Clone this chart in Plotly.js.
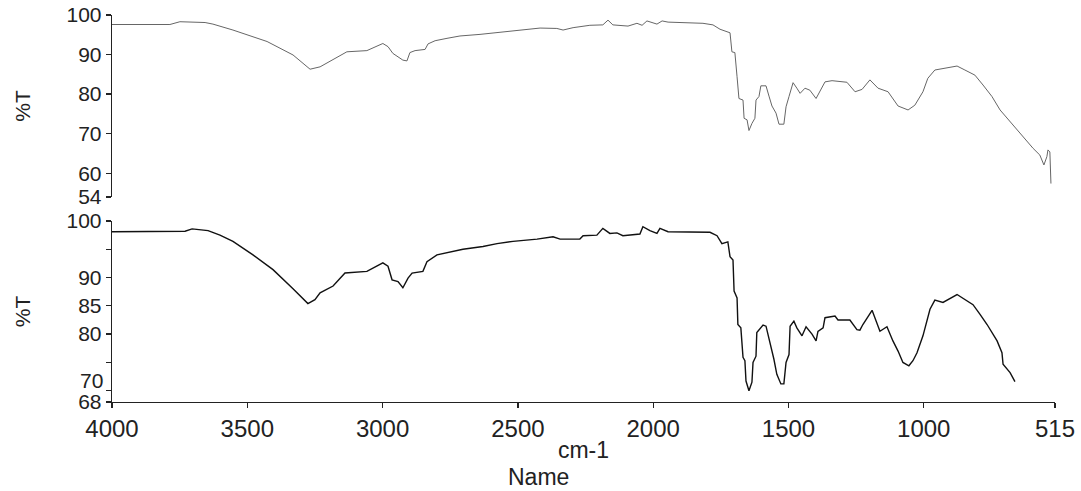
<!DOCTYPE html>
<html>
<head>
<meta charset="utf-8">
<script src="https://cdn.plot.ly/plotly-3.0.1.min.js"></script>
<style>html,body{margin:0;padding:0;background:#fff;}#chart{width:1081px;height:491px;}</style>
</head>
<body>
<div id="chart"></div>
<script>
// Top spectrum (wavenumber cm-1, %T)
const topWavenumber = [4000,3786,3749,3656,3627,3553,3427,3331,3268,3231,3132,3058,2999,2980,2962,2925,2910,2899,2880,2843,2832,2806,2762,2714,2640,2577,2492,2418,2356,2333,2296,2234,2186,2167,2149,2093,2060,2041,2023,2012,1986,1967,1945,1816,1779,1753,1716,1709,1698,1690,1683,1668,1664,1653,1646,1635,1624,1620,1609,1602,1583,1572,1561,1546,1535,1517,1509,1498,1483,1469,1457,1439,1421,1398,1376,1365,1339,1284,1254,1228,1199,1169,1132,1095,1058,1033,1003,985,959,929,877,848,811,781,748,718,681,637,596,571,556,545,541,534,530];
const topTransmittance = [97.6,97.6,98.3,98.1,97.7,96.2,93.3,89.9,86.3,86.9,90.7,91.0,92.8,92.0,90.3,88.6,88.4,90.5,91.0,91.3,92.7,93.5,94.1,94.7,95.1,95.6,96.2,96.7,96.6,96.2,96.8,97.4,97.5,98.7,97.5,97.2,97.9,97.4,98.5,98.3,97.7,98.5,98.2,97.9,97.5,96.4,95.5,90.7,90.5,84.4,78.9,78.5,73.9,73.5,70.8,72.6,73.9,78.5,79.4,82.1,82.1,79.5,77.0,75.2,72.4,72.4,76.8,79.4,82.9,81.5,80.2,81.5,81.0,78.9,81.5,83.1,83.4,83.0,80.6,81.2,83.6,81.5,80.6,77.0,76.0,77.2,80.6,84.0,86.1,86.5,87.1,86.1,84.8,82.3,79.4,76.0,73.0,69.7,66.3,64.6,62.1,64.2,65.9,65.4,57.4];

// Bottom spectrum (wavenumber cm-1, %T)
const bottomWavenumber = [4000,3730,3704,3645,3601,3553,3479,3405,3331,3298,3276,3250,3231,3183,3139,3058,2999,2980,2965,2943,2925,2906,2891,2851,2836,2799,2751,2703,2629,2577,2518,2429,2370,2344,2271,2259,2208,2186,2160,2134,2112,2049,2038,2012,1986,1975,1945,1790,1764,1746,1724,1716,1705,1701,1690,1687,1676,1668,1661,1657,1646,1635,1631,1620,1617,1594,1583,1568,1554,1543,1528,1517,1509,1498,1494,1480,1469,1450,1435,1413,1398,1391,1372,1365,1328,1317,1273,1247,1236,1225,1191,1162,1136,1114,1095,1077,1055,1040,1025,1003,977,959,929,877,848,818,792,766,729,711,707,681,663];
const bottomTransmittance = [98.1,98.2,98.6,98.3,97.5,96.4,94.0,91.4,88.0,86.4,85.4,86.1,87.3,88.5,90.8,91.1,92.6,92.0,89.6,89.3,88.2,89.9,90.8,91.1,92.8,94.0,94.5,95.0,95.5,96.0,96.4,96.8,97.2,96.8,96.8,97.4,97.5,98.7,97.8,97.9,97.4,97.7,99.0,98.3,97.8,98.7,98.1,98.0,97.4,96.0,96.3,93.7,93.1,87.6,86.4,81.7,81.1,75.9,75.3,71.7,70.0,71.5,75.0,76.1,80.3,81.6,81.4,78.5,75.6,72.9,71.2,71.2,75.0,76.4,81.4,82.3,81.1,79.7,81.3,80.0,78.8,80.5,81.1,82.9,83.2,82.5,82.5,80.8,80.7,81.7,84.2,80.5,81.3,78.8,77.0,75.0,74.4,75.3,76.7,79.7,84.4,86.0,85.6,87.0,86.1,85.2,83.5,81.7,78.8,76.7,74.7,73.2,71.6];

// Axis ticks
const xTickVals = [4000,3500,3000,2500,2000,1500,1000,515];
const xTickText = ["4000","3500","3000","2500","2000","1500","1000","515"];
const topYTickVals = [54,60,70,80,90,100];
const topYTickText = ["54","60","70","80","90","100"];
const bottomYTickVals = [68,70,75,80,85,90,95,100];
const bottomYTickText = ["68","","","80","85","90","","100"];
// the "70" label sits a little above its tick in the original, clear of "68"
const bottomLabel70 = "70";
const bottomLabel70At = 71.8;

const fontFamily = 'Arial, "Liberation Sans", sans-serif';
const textColor = '#222';

const traces = [
  {x: topWavenumber, y: topTransmittance, xaxis: 'x', yaxis: 'y', mode: 'lines',
   line: {color: '#666', width: 1}, hoverinfo: 'x+y'},
  {x: bottomWavenumber, y: bottomTransmittance, xaxis: 'x', yaxis: 'y2', mode: 'lines',
   line: {color: '#111', width: 1.4}, hoverinfo: 'x+y'}
];

const yCommon = {
  showgrid: false, zeroline: false, showline: true, linecolor: '#222', linewidth: 1.3,
  ticks: 'outside', ticklen: 5, tickcolor: '#222', tickwidth: 1.3,
  tickmode: 'array', anchor: 'x',
  tickfont: {family: fontFamily, size: 21, color: textColor},
  title: {text: '%T', font: {family: fontFamily, size: 21, color: textColor}, standoff: 30},
  automargin: false
};

const layout = {
  width: 1081, height: 491,
  margin: {l: 112, r: 26, t: 15, b: 89},
  paper_bgcolor: '#fff', plot_bgcolor: '#fff',
  showlegend: false,
  xaxis: {
    range: [4000, 515], anchor: 'y2',
    showgrid: false, zeroline: false, showline: true, linecolor: '#222', linewidth: 1.3,
    ticks: 'outside', ticklen: 5, tickcolor: '#222', tickwidth: 1.3,
    tickmode: 'array', tickvals: xTickVals, ticktext: xTickText,
    tickfont: {family: fontFamily, size: 24, color: textColor},
    title: {text: 'cm-1', font: {family: fontFamily, size: 23, color: textColor}, standoff: 0},
    automargin: false
  },
  yaxis: Object.assign({}, yCommon, {
    domain: [0.5297, 1], range: [54, 100],
    tickvals: topYTickVals, ticktext: topYTickText
  }),
  yaxis2: Object.assign({}, yCommon, {
    domain: [0, 0.4677], range: [68, 100],
    tickvals: bottomYTickVals, ticktext: bottomYTickText
  }),
  annotations: [
    {text: bottomLabel70, xref: 'paper', yref: 'y2', x: 0, y: bottomLabel70At,
     xanchor: 'right', yanchor: 'middle', xshift: -7, showarrow: false,
     font: {family: fontFamily, size: 21, color: textColor}},
    {text: 'Name', xref: 'paper', yref: 'paper', x: 0.4518, y: -0.194,
     xanchor: 'center', yanchor: 'middle', showarrow: false,
     font: {family: fontFamily, size: 23, color: textColor}}
  ]
};

Plotly.newPlot('chart', traces, layout, {displayModeBar: false, staticPlot: true});
</script>
</body>
</html>
